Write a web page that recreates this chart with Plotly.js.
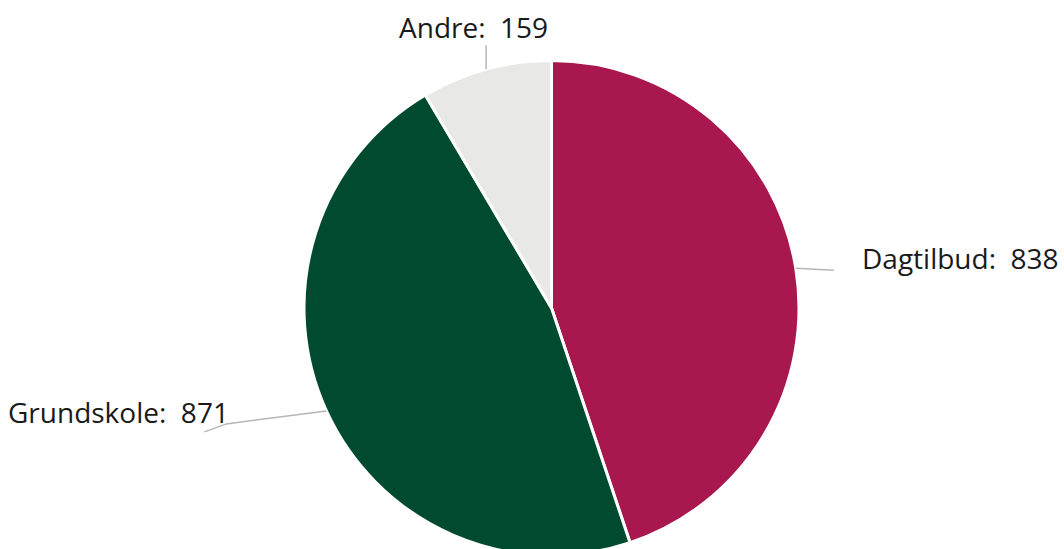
<!DOCTYPE html>
<html>
<head>
<meta charset="utf-8">
<script src="https://cdn.plot.ly/plotly-3.0.1.min.js"></script>
<style>
html,body{margin:0;padding:0;overflow:hidden;background:#fff;}
#chart{width:1064px;height:560px;}
</style>
</head>
<body>
<div id="chart"></div>
<script>
const categories = ["Dagtilbud", "Grundskole", "Andre"];
const values = [838, 871, 159];
const colors = ["#A8174E", "#004B2F", "#E8E8E6"];

const W = 1064, H = 560;
const cx = 551.5, cy = 308, r = 247.5;

const total = values.reduce((a, b) => a + b, 0);
let acc = 0;
const mids = values.map(v => { const m = (acc + v / 2) / total * 2 * Math.PI; acc += v; return m; });
const edge = mids.map(a => ({ x: cx + r * Math.sin(a), y: cy - r * Math.cos(a) }));

// connector offsets (px) and label placement per slice
const conn = [
  [[0, 0], [38, 2]],
  [[0, 0], [-100, 13], [-122, 21]],
  [[0, 0], [0, -24]]
];
const lab = [
  { dx: 64, dy: -10, xa: "left" },
  { dx: -95, dy: 1, xa: "right" },
  { dx: -13, dy: -42, xa: "center" }
];
const px = x => x / W, py = y => 1 - y / H;

const shapes = conn.map((pts, i) => ({
  type: "path", xref: "paper", yref: "paper",
  path: pts.map((p, k) => (k ? "L" : "M") + px(edge[i].x + p[0]) + "," + py(edge[i].y + p[1])).join(" "),
  line: { color: "#b5b5b5", width: 1.5 }
}));
const annotations = categories.map((c, i) => ({
  xref: "paper", yref: "paper",
  x: px(edge[i].x + lab[i].dx), y: py(edge[i].y + lab[i].dy),
  xanchor: lab[i].xa, yanchor: "middle",
  text: c + ":  " + values[i], showarrow: false,
  font: { family: "Open Sans, sans-serif", size: 28, color: "#1a1a1a" }
}));

Plotly.newPlot("chart", [{
  type: "pie", labels: categories, values: values, sort: false,
  direction: "clockwise", rotation: 0,
  marker: { colors: colors, line: { color: "#ffffff", width: 3 } },
  textinfo: "none", textposition: "none", hoverinfo: "label+value",
  domain: { x: [(cx - r) / W, (cx + r) / W], y: [(H - (cy + r)) / H, (H - (cy - r)) / H] }
}], {
  width: W, height: H, showlegend: false,
  margin: { l: 0, r: 0, t: 0, b: 0, pad: 0 },
  paper_bgcolor: "#fff", shapes: shapes, annotations: annotations
}, { displayModeBar: false, staticPlot: true });
</script>
</body>
</html>
